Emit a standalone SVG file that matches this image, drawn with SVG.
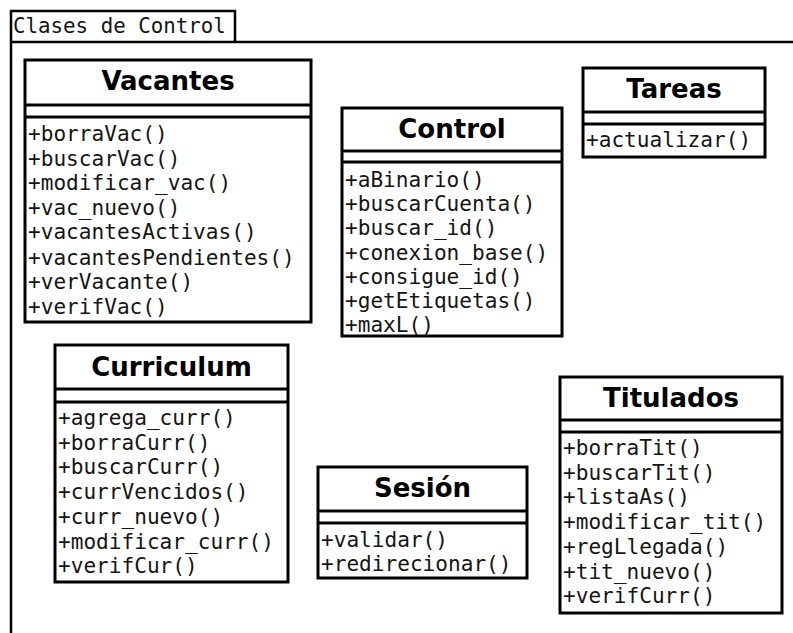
<svg xmlns="http://www.w3.org/2000/svg" width="793" height="633" viewBox="0 0 793 633">
<style>
.bg{fill:#ffffff}
.pkg{fill:none;stroke:#000;stroke-width:2.5}
.box{fill:#fff;stroke:#000;stroke-width:3}
.sep{stroke:#000;stroke-width:3}
.title{font-family:"DejaVu Sans",sans-serif;font-weight:bold;font-size:26px;text-anchor:middle;fill:#000}
.op{font-family:"DejaVu Sans Mono","Liberation Mono",monospace;font-size:21.1px;fill:#151515}
.pkgt{font-family:"DejaVu Sans Mono","Liberation Mono",monospace;font-size:20.8px;fill:#151515}
</style>
<rect class="bg" x="0" y="0" width="793" height="633"/>
<g id="package">
<path class="pkg" d="M11,633 V11 H235 V42 M11,42 H793"/>
<text class="pkgt" x="13" y="33">Clases de Control</text>
</g>
<g id="connectors"></g>
<g id="vacantes">
<rect class="box" x="25" y="60" width="286" height="262"/>
<line class="sep" x1="25" y1="105" x2="311" y2="105"/>
<line class="sep" x1="25" y1="117" x2="311" y2="117"/>
<text class="title" x="168" y="90">Vacantes</text>
<text class="op" x="28" y="141">+borraVac()</text>
<text class="op" x="28" y="165.6">+buscarVac()</text>
<text class="op" x="28" y="190.2">+modificar_vac()</text>
<text class="op" x="28" y="214.8">+vac_nuevo()</text>
<text class="op" x="28" y="239.4">+vacantesActivas()</text>
<text class="op" x="28" y="264.5">+vacantesPendientes()</text>
<text class="op" x="28" y="289">+verVacante()</text>
<text class="op" x="28" y="313.5">+verifVac()</text>
</g>
<g id="control">
<rect class="box" x="342" y="108" width="220" height="228"/>
<line class="sep" x1="342" y1="151" x2="562" y2="151"/>
<line class="sep" x1="342" y1="162" x2="562" y2="162"/>
<text class="title" x="452" y="138">Control</text>
<text class="op" x="345" y="187">+aBinario()</text>
<text class="op" x="345" y="211.2">+buscarCuenta()</text>
<text class="op" x="345" y="235.4">+buscar_id()</text>
<text class="op" x="345" y="259.6">+conexion_base()</text>
<text class="op" x="345" y="283.8">+consigue_id()</text>
<text class="op" x="345" y="308">+getEtiquetas()</text>
<text class="op" x="345" y="332.2">+maxL()</text>
</g>
<g id="tareas">
<rect class="box" x="583" y="68" width="182" height="89"/>
<line class="sep" x1="583" y1="112" x2="765" y2="112"/>
<line class="sep" x1="583" y1="124" x2="765" y2="124"/>
<text class="title" x="674" y="98">Tareas</text>
<text class="op" x="586" y="147">+actualizar()</text>
</g>
<g id="curriculum">
<rect class="box" x="55" y="345" width="233" height="237"/>
<line class="sep" x1="55" y1="389" x2="288" y2="389"/>
<line class="sep" x1="55" y1="402" x2="288" y2="402"/>
<text class="title" x="171.5" y="376">Curriculum</text>
<text class="op" x="58" y="425">+agrega_curr()</text>
<text class="op" x="58" y="449.7">+borraCurr()</text>
<text class="op" x="58" y="474.4">+buscarCurr()</text>
<text class="op" x="58" y="499.1">+currVencidos()</text>
<text class="op" x="58" y="523.8">+curr_nuevo()</text>
<text class="op" x="58" y="548.5">+modificar_curr()</text>
<text class="op" x="58" y="573.2">+verifCur()</text>
</g>
<g id="sesion">
<rect class="box" x="318" y="467" width="209" height="111"/>
<line class="sep" x1="318" y1="511" x2="527" y2="511"/>
<line class="sep" x1="318" y1="523" x2="527" y2="523"/>
<text class="title" x="422.5" y="497">Sesión</text>
<text class="op" x="321" y="547">+validar()</text>
<text class="op" x="321" y="571">+redirecionar()</text>
</g>
<g id="titulados">
<rect class="box" x="560" y="377" width="222" height="236"/>
<line class="sep" x1="560" y1="420" x2="782" y2="420"/>
<line class="sep" x1="560" y1="432" x2="782" y2="432"/>
<text class="title" x="671" y="407">Titulados</text>
<text class="op" x="563" y="455">+borraTit()</text>
<text class="op" x="563" y="479.7">+buscarTit()</text>
<text class="op" x="563" y="504.4">+listaAs()</text>
<text class="op" x="563" y="529.1">+modificar_tit()</text>
<text class="op" x="563" y="553.8">+regLlegada()</text>
<text class="op" x="563" y="578.5">+tit_nuevo()</text>
<text class="op" x="563" y="603.2">+verifCurr()</text>
</g>
</svg>
